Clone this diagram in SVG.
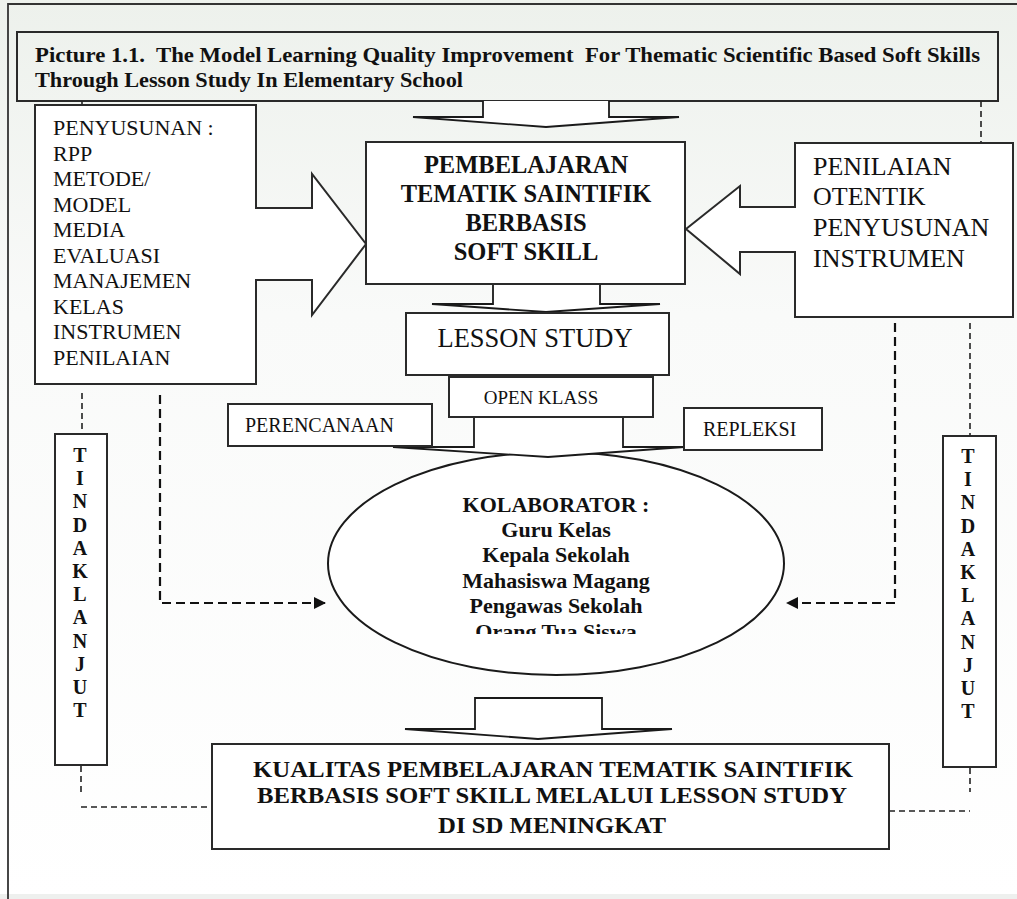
<svg xmlns="http://www.w3.org/2000/svg" width="1017" height="899" viewBox="0 0 1017 899" font-family="'Liberation Serif','Times New Roman',serif">
<defs>
<linearGradient id="bg" x1="0" y1="0" x2="0" y2="1">
<stop offset="0" stop-color="#edf1ec"/>
<stop offset="0.35" stop-color="#f9faf9"/>
<stop offset="1" stop-color="#ffffff"/>
</linearGradient>
<marker id="ah" viewBox="0 0 10 10" refX="10" refY="5" markerWidth="14" markerHeight="12" markerUnits="userSpaceOnUse" orient="auto">
<path d="M0,0 L10,5 L0,10 Z" fill="#111"/>
</marker>
<clipPath id="ellclip"><rect x="330" y="440" width="460" height="194"/></clipPath>
<style>
.box{fill:#fff;stroke:#2a2a2a;stroke-width:2}
.open{fill:none;stroke:#2a2a2a;stroke-width:2}
.blk{fill:#fff;stroke:#1a1a1a;stroke-width:1.8;stroke-linejoin:miter}
.dash{fill:none;stroke:#222;stroke-width:1.6;stroke-dasharray:6 4}
.dasharr{fill:none;stroke:#111;stroke-width:2.2;stroke-dasharray:9 5}
text{font-family:"Liberation Serif","Times New Roman",serif;fill:#111}
.b{font-weight:bold}
</style>
</defs>
<rect x="0" y="0" width="1017" height="899" fill="url(#bg)"/>
<rect x="0" y="894" width="1017" height="5" fill="#eef0ee"/>
<path d="M8,899 V4 H1017" fill="none" stroke="#333" stroke-width="1.8"/>

<g id="title">
<rect x="17" y="32" width="981" height="69" class="open"/>
<text class="b" x="35" y="62" font-size="22" textLength="945" lengthAdjust="spacingAndGlyphs" xml:space="preserve">Picture 1.1.  The Model Learning Quality Improvement  For Thematic Scientific Based Soft Skills</text>
<text class="b" x="35" y="87" font-size="22" textLength="428" lengthAdjust="spacingAndGlyphs">Through Lesson Study In Elementary School</text>
</g>

<g id="kolaborator">
<ellipse cx="556" cy="563.5" rx="228" ry="111.5" fill="#fff" stroke="#1a1a1a" stroke-width="2"/>
<g clip-path="url(#ellclip)" font-size="22" text-anchor="middle">
<text class="b" x="556" y="512">KOLABORATOR :</text>
<text class="b" x="556" y="537">Guru Kelas</text>
<text class="b" x="556" y="562">Kepala Sekolah</text>
<text class="b" x="556" y="588">Mahasiswa Magang</text>
<text class="b" x="556" y="613">Pengawas Sekolah</text>
<text class="b" x="556" y="639">Orang Tua Siswa</text>
</g>
</g>

<g id="connectors">
<path class="blk" d="M483,101 V117 H413 L546,127 L679,117 H609 V101"/>
<path class="blk" d="M493,281 H600 V304 H660 L546,312 L432,304 H493 Z"/>
<path class="blk" d="M474,405 H623 V447 H684 L548,457 L393,447 H474 Z"/>
<path class="blk" d="M475,698 H602 V729 H672 L538,739 L405,729 H475 Z"/>
<path class="dash" d="M82,101 V105"/>
<path class="dash" d="M82,393 V433"/>
<path class="dash" d="M981,101 V143"/>
<path class="dash" d="M970,323 V436"/>
<path class="dash" d="M81,766 V794"/>
<path class="dash" d="M81,807 H212"/>
<path class="dash" d="M970,768 V792"/>
<path class="dash" d="M889,811 H970"/>
<path class="dasharr" d="M160,395 V603 H326" marker-end="url(#ah)"/>
<path class="dasharr" d="M895,323 V603 H786" marker-end="url(#ah)"/>
</g>

<g id="penyusunan">
<path class="box" d="M35,105 H256 V208 H312 V174 L366,244 L312,315 V280 H256 V384 H35 Z"/>
<g font-size="22">
<text x="53" y="135">PENYUSUNAN :</text>
<text x="53" y="160.5">RPP</text>
<text x="53" y="186">METODE/</text>
<text x="53" y="211.5">MODEL</text>
<text x="53" y="237">MEDIA</text>
<text x="53" y="262.5">EVALUASI</text>
<text x="53" y="288">MANAJEMEN</text>
<text x="53" y="313.5">KELAS</text>
<text x="53" y="339">INSTRUMEN</text>
<text x="53" y="364.5">PENILAIAN</text>
</g>
</g>

<g id="pembelajaran">
<rect class="box" x="366" y="142" width="319" height="142"/>
<g font-size="24.5" text-anchor="middle">
<text class="b" x="526" y="173">PEMBELAJARAN</text>
<text class="b" x="526" y="202">TEMATIK SAINTIFIK</text>
<text class="b" x="526" y="231">BERBASIS</text>
<text class="b" x="526" y="260">SOFT SKILL</text>
</g>
</g>

<g id="penilaian">
<path class="box" d="M795,143 H1013 V317 H795 V252 H740 V274 L686,229 L740,186 V207 H795 Z"/>
<g font-size="26">
<text x="813" y="175">PENILAIAN</text>
<text x="813" y="205">OTENTIK</text>
<text x="813" y="236">PENYUSUNAN</text>
<text x="813" y="267">INSTRUMEN</text>
</g>
</g>

<g id="lesson-study">
<rect class="box" x="406" y="313" width="263" height="62"/>
<text x="535" y="347" font-size="26.5" text-anchor="middle">LESSON STUDY</text>
</g>

<g id="open-klass">
<rect class="box" x="449" y="377" width="204" height="40"/>
<text x="541" y="404" font-size="19" text-anchor="middle">OPEN KLASS</text>
</g>

<g id="perencanaan">
<rect class="box" x="228" y="404" width="204" height="42"/>
<text x="245" y="432" font-size="20">PERENCANAAN</text>
</g>

<g id="repleksi">
<rect class="box" x="684" y="408" width="138" height="42"/>
<text x="703" y="436" font-size="20">REPLEKSI</text>
</g>

<g id="tindaklanjut-left">
<rect class="box" x="55" y="434" width="52" height="331"/>
<text class="b" font-size="20" text-anchor="middle">
<tspan x="80" y="462">T</tspan><tspan x="80" y="485.2">I</tspan><tspan x="80" y="508.4">N</tspan><tspan x="80" y="531.6">D</tspan><tspan x="80" y="554.8">A</tspan><tspan x="80" y="578">K</tspan><tspan x="80" y="601.2">L</tspan><tspan x="80" y="624.4">A</tspan><tspan x="80" y="647.6">N</tspan><tspan x="80" y="670.8">J</tspan><tspan x="80" y="694">U</tspan><tspan x="80" y="717.2">T</tspan>
</text>
</g>

<g id="tindaklanjut-right">
<rect class="box" x="943" y="436" width="53" height="331"/>
<text class="b" font-size="20" text-anchor="middle">
<tspan x="968" y="463">T</tspan><tspan x="968" y="486.2">I</tspan><tspan x="968" y="509.4">N</tspan><tspan x="968" y="532.6">D</tspan><tspan x="968" y="555.8">A</tspan><tspan x="968" y="579">K</tspan><tspan x="968" y="602.2">L</tspan><tspan x="968" y="625.4">A</tspan><tspan x="968" y="648.6">N</tspan><tspan x="968" y="671.8">J</tspan><tspan x="968" y="695">U</tspan><tspan x="968" y="718.2">T</tspan>
</text>
</g>

<g id="kualitas">
<rect class="box" x="212" y="744" width="677" height="105"/>
<g font-size="23">
<text class="b" x="253" y="777" textLength="600" lengthAdjust="spacingAndGlyphs">KUALITAS PEMBELAJARAN TEMATIK SAINTIFIK</text>
<text class="b" x="257" y="803" textLength="590" lengthAdjust="spacingAndGlyphs">BERBASIS SOFT SKILL MELALUI LESSON STUDY</text>
<text class="b" x="438" y="833" textLength="228" lengthAdjust="spacingAndGlyphs">DI SD MENINGKAT</text>
</g>
</g>
</svg>
